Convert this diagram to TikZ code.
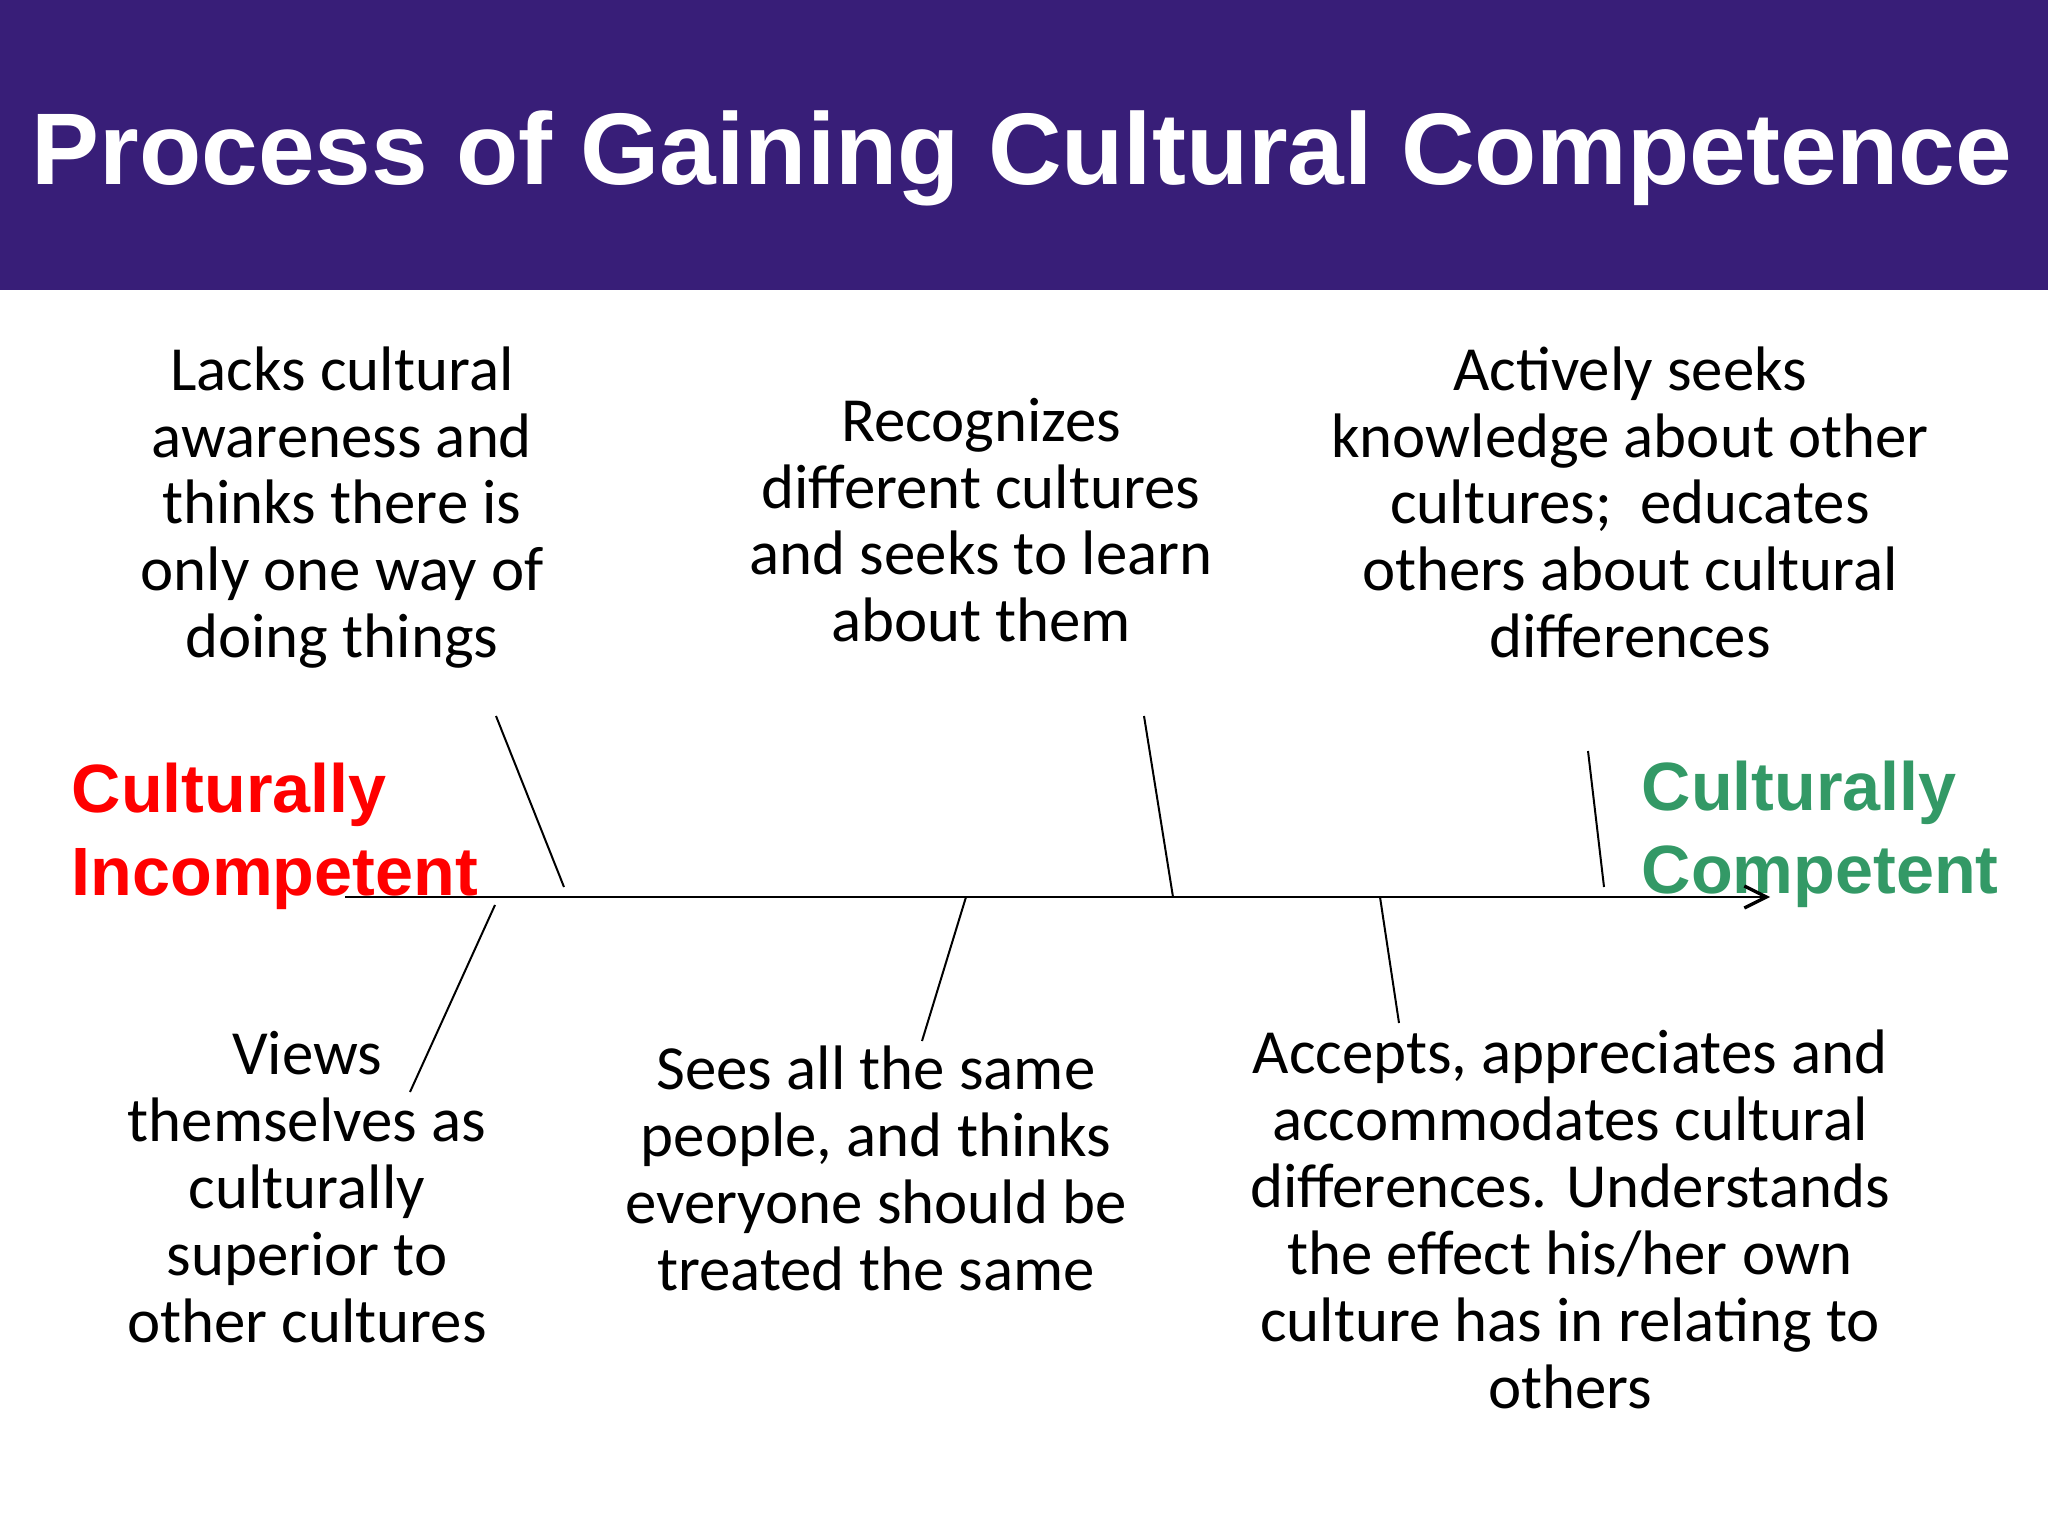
\documentclass[tikz,border=0pt]{standalone}
\usepackage{fontspec}
\setmainfont{Carlito}
\newfontfamily\headfont{Liberation Sans}
\usetikzlibrary{arrows.meta}
\definecolor{bandpurple}{RGB}{56,30,120}
\definecolor{compgreen}{RGB}{51,153,102}
\tikzset{
  stage/.style={align=center,inner sep=0pt,anchor=base,font=\fontsize{18.85}{20.1}\selectfont},
  pole/.style={align=left,inner sep=0pt,anchor=base west,font=\headfont\bfseries\fontsize{20.5}{24.9}\selectfont},
  bone/.style={line width=0.6pt}
}
\begin{document}
\begin{tikzpicture}[x=0.3pt,y=-0.3pt]
\useasboundingbox (0,0) rectangle (2048,1536);
\fill[bandpurple] (0,0) rectangle (2048,290);
\node[anchor=base,inner sep=0pt,text=white,font=\headfont\bfseries\fontsize{30.55}{36}\selectfont] (title) at (1022,185) {Process of Gaining Cultural Competence};

\node[pole,text=red] (incompetent) at (71,895) {Culturally\\Incompetent};
\node[pole,text=compgreen] (competent) at (1641,893) {Culturally\\Competent};

\node[stage] (lacks) at (342,658) {Lacks cultural\\awareness and\\thinks there is\\only one way of\\doing things};
\node[stage] (recognizes) at (981,642) {Recognizes\\different cultures\\and seeks to learn\\about them};
\node[stage] (seeks) at (1630,658) {Actively seeks\\knowledge about other\\cultures;~ educates\\others about cultural\\differences};
\node[stage] (views) at (307,1342) {Views\\themselves as\\culturally\\superior to\\other cultures};
\node[stage] (sees) at (876,1290) {Sees all the same\\people, and thinks\\everyone should be\\treated the same};
\node[stage] (accepts) at (1570,1408) {Accepts, appreciates and\\accommodates cultural\\differences. Understands\\the effect his/her own\\culture has in relating to\\others};

\coordinate (start) at (345,897);
\coordinate (finish) at (1770,897);
\coordinate (lackstop) at (496,716);
\coordinate (lacksfoot) at (564,887);
\coordinate (recogtop) at (1144,716);
\coordinate (recogfoot) at (1173,897);
\coordinate (seekstop) at (1588,751);
\coordinate (seeksfoot) at (1604,887);
\coordinate (viewstop) at (495,905);
\coordinate (viewsfoot) at (410,1092);
\coordinate (seestop) at (966,897);
\coordinate (seesfoot) at (922,1041);
\coordinate (acceptstop) at (1380,897);
\coordinate (acceptsfoot) at (1399,1023);

\draw[bone,-{Straight Barb[length=6.6pt,width=6.6pt,line width=1pt]}] (start) -- (finish);
\draw[bone] (lackstop) -- (lacksfoot);
\draw[bone] (recogtop) -- (recogfoot);
\draw[bone] (seekstop) -- (seeksfoot);
\draw[bone] (viewstop) -- (viewsfoot);
\draw[bone] (seestop) -- (seesfoot);
\draw[bone] (acceptstop) -- (acceptsfoot);
\end{tikzpicture}
\end{document}
